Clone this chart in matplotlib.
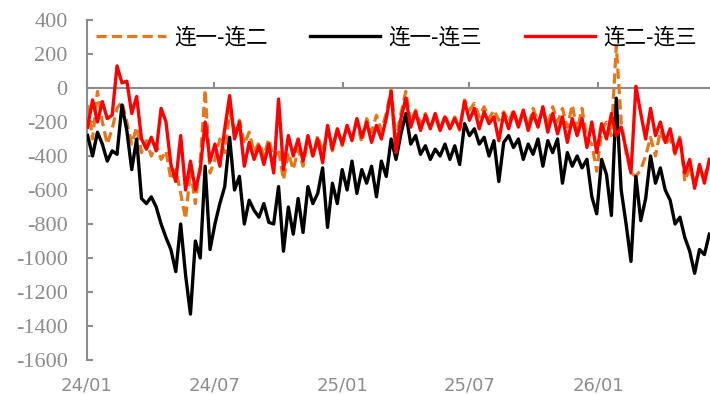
import matplotlib
matplotlib.use("Agg")
import matplotlib.pyplot as plt
import matplotlib.dates as mdates
import pandas as pd

plt.rcParams["font.family"] = ["Noto Sans CJK SC", "DejaVu Sans"]
plt.rcParams["font.serif"] = ["Liberation Serif", "DejaVu Serif"]
plt.rcParams["ytick.major.pad"] = 14
plt.rcParams["xtick.major.pad"] = 12

dates = pd.date_range("2024-01-02", periods=128, freq="7D")

spread_12 = [  # 连一-连二
    -100, -300, -20, -200, -330, -240, -120, -80, -200, -330,
    -230, -380, -310, -400, -330, -420, -370, -540, -480, -620,
    -770, -480, -680, -430, -10, -500, -420, -300, -380, -140,
    -250, -190, -330, -260, -380, -320, -400, -300, -420, -360,
    -540, -380, -480, -360, -460, -300, -400, -280, -380, -260,
    -370, -240, -340, -230, -300, -200, -320, -180, -260, -160,
    -250, -150, -10, -300, -150, -20, -200, -130, -210, -150,
    -230, -170, -250, -160, -230, -170, -250, -70, -130, -90,
    -170, -110, -180, -130, -190, -140, -200, -130, -220, -140,
    -230, -120, -200, -130, -220, -110, -200, -120, -230, -100,
    -250, -120, -300, -330, -490, -250, -200, -280, 250, -200,
    -380, -500, -520, -480, -400, -290, -400, -250, -330, -300,
    -390, -280, -550, -470, -560, -480, -520, -430,
]

spread_13 = [  # 连一-连三
    -280, -400, -260, -330, -430, -370, -390, -100, -250, -480,
    -300, -650, -680, -640, -700, -800, -880, -950, -1080, -800,
    -1100, -1330, -900, -1000, -460, -950, -800, -680, -580, -290,
    -600, -520, -800, -660, -720, -760, -680, -790, -800, -580,
    -960, -700, -860, -650, -850, -580, -680, -620, -470, -820,
    -560, -680, -480, -600, -430, -620, -480, -560, -460, -640,
    -430, -520, -300, -420, -270, -150, -330, -280, -390, -340,
    -420, -360, -400, -330, -420, -340, -450, -210, -280, -240,
    -330, -290, -400, -310, -550, -320, -280, -350, -300, -420,
    -330, -390, -300, -460, -310, -380, -300, -560, -380, -460,
    -400, -470, -420, -640, -740, -420, -510, -750, -60, -600,
    -800, -1020, -520, -780, -650, -400, -560, -470, -600, -660,
    -800, -760, -880, -960, -1090, -950, -980, -860,
]

spread_23 = [  # 连二-连三
    -230, -70, -200, -80, -180, -160, 130, 30, 40, -150,
    -50, -300, -360, -290, -370, -120, -200, -450, -550, -280,
    -600, -430, -600, -480, -200, -430, -330, -460, -240, -45,
    -300, -200, -460, -320, -420, -340, -450, -330, -500, -65,
    -480, -280, -400, -300, -430, -280, -400, -300, -440, -220,
    -360, -240, -330, -220, -310, -180, -290, -200, -320, -220,
    -300, -180, -20, -380, -180, -60, -230, -140, -250, -160,
    -240, -150, -250, -170, -240, -180, -240, -80, -190, -120,
    -240, -140, -210, -170, -310, -150, -240, -140, -230, -130,
    -250, -150, -230, -110, -260, -150, -270, -170, -320, -180,
    -280, -180, -350, -200, -380, -210, -300, -150, -280, -230,
    -360, -500, 10, -150, -300, -120, -280, -200, -320, -240,
    -380, -300, -500, -420, -590, -450, -560, -420,
]

labels = ["连一-连二", "连一-连三", "连二-连三"]
xticks = pd.to_datetime(["2024-01-01", "2024-07-01", "2025-01-01",
                         "2025-07-01", "2026-01-01"])
xticklabels = ["24/01", "24/07", "25/01", "25/07", "26/01"]
yticks = list(range(-1600, 401, 200))

GRAY = "#8c8c8c"

fig = plt.figure(figsize=(7.1, 3.95), dpi=100)
ax = fig.add_axes([0.1225, 0.0886, 0.8775, 0.8608])

ax.plot(dates, spread_12, color="#E8761A", lw=2.3, ls=(0, (3.2, 1.6)),
        label=labels[0], zorder=2)
ax.plot(dates, spread_13, color="black", lw=2.4, label=labels[1], zorder=3)
ax.plot(dates, spread_23, color="#FF0000", lw=2.4, label=labels[2], zorder=4)

ax.set_ylim(-1600, 400)
ax.set_xlim(pd.Timestamp("2024-01-01"), pd.Timestamp("2026-06-10"))

for s in ["top", "right"]:
    ax.spines[s].set_visible(False)
ax.spines["left"].set_color(GRAY)
ax.spines["left"].set_linewidth(1.5)
ax.spines["bottom"].set_position(("data", 0))
ax.spines["bottom"].set_color(GRAY)
ax.spines["bottom"].set_linewidth(1.5)
ax.spines["bottom"].set_zorder(1)

ax.tick_params(axis="y", direction="in", length=4, width=1.5, color=GRAY,
               pad=14)
ax.set_yticks(yticks)
ax.set_yticklabels([str(v) for v in yticks], family="serif",
                   fontsize=16, color=GRAY)
ax.set_xticks(xticks)
ax.tick_params(axis="x", direction="in", length=4, width=1.5, color=GRAY,
               labelbottom=False)

sec = ax.secondary_xaxis("bottom")
sec.spines["bottom"].set_visible(False)
sec.set_xticks(mdates.date2num(xticks))
sec.set_xticklabels(xticklabels, family="DejaVu Sans", fontsize=13, color=GRAY)
sec.tick_params(axis="x", length=0, pad=12)

fig.legend(loc="center", bbox_to_anchor=(0.558, 0.904), ncol=3, frameon=False,
           fontsize=15.5, handlelength=3.25, handletextpad=0.37,
           columnspacing=2.0)

fig.savefig("out.png", dpi=100)
